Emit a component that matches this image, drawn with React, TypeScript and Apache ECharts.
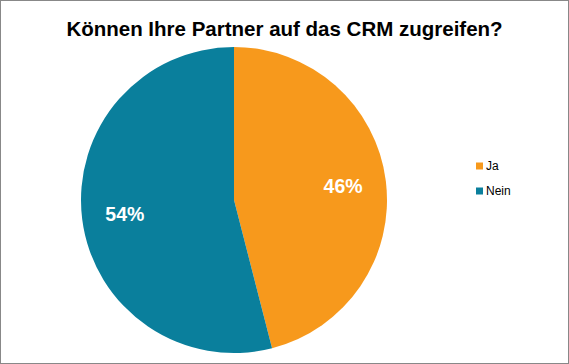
import React, { useEffect, useRef } from "react";
import * as echarts from "echarts";

const titleText = "Können Ihre Partner auf das CRM zugreifen?";
const categories = ["Ja", "Nein"];
const values = [46, 54];
const colors = ["#F7991C", "#0A7F9C"];

export default function App() {
  const ref = useRef<HTMLDivElement>(null);
  useEffect(() => {
    if (!ref.current) return;
    const chart = echarts.init(ref.current, null, { renderer: "svg" });
    const data = categories.map((name, i) => ({ name, value: values[i] }));
    chart.setOption({
      animation: false,
      color: colors,
      title: {
        text: titleText,
        left: "center",
        top: 12,
        textStyle: {
          fontFamily: "Liberation Sans",
          fontWeight: "bold",
          fontSize: 20.5,
          color: "#000",
        },
      },
      legend: {
        orient: "vertical",
        left: 470,
        top: 154,
        itemWidth: 7,
        itemHeight: 7,
        itemGap: 13,
        icon: "rect",
        data: categories,
        textStyle: { fontFamily: "Liberation Sans", fontSize: 12, color: "#000", padding: [0, 0, 0, -2] },
      },
      series: [
        {
          type: "pie",
          center: [233, 199],
          radius: [0, 153],
          startAngle: 90,
          clockwise: true,
          data,
          label: { show: false },
          labelLine: { show: false },
          itemStyle: { borderWidth: 0 },
          emphasis: { disabled: true },
          silent: true,
        },
        {
          type: "pie",
          center: [233, 199],
          radius: [61, 153],
          startAngle: 90,
          clockwise: true,
          data,
          itemStyle: { color: "transparent", borderWidth: 0 },
          label: {
            show: true,
            position: "inner",
            formatter: "{d}%",
            fontFamily: "Liberation Sans",
            fontWeight: "bold",
            fontSize: 19.5,
            color: "#fff",
          },
          labelLine: { show: false },
          emphasis: { disabled: true },
          silent: true,
        },
      ],
    });
    return () => chart.dispose();
  }, []);
  return (
    <div
      style={{
        position: "fixed",
        left: 0,
        top: 0,
        width: 569,
        height: 364,
        boxSizing: "border-box",
        border: "1px solid #888",
        background: "#fff",
      }}
    >
      <div ref={ref} style={{ width: 567, height: 362 }} />
    </div>
  );
}
